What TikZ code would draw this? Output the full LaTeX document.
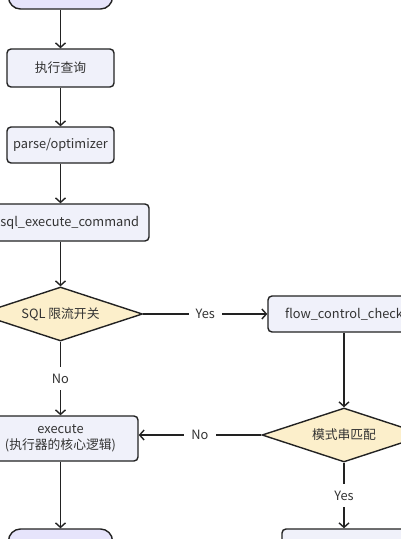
\documentclass[tikz,border=0pt]{standalone}
\usepackage{fontspec}
\setmainfont{Noto Sans CJK SC}
\usetikzlibrary{arrows.meta,shapes.geometric}
\definecolor{boxfill}{HTML}{F0F1FA}
\definecolor{termfill}{HTML}{E6E4FB}
\definecolor{decfill}{HTML}{FCEFCB}
\definecolor{linec}{HTML}{222222}
\definecolor{textc}{HTML}{333333}
\tikzset{
  x=1pt,y=-1pt,
  every node/.style={font=\fontsize{12.8}{16}\selectfont, text=textc},
  procbox/.style={draw=linec, line width=1.4pt, fill=boxfill, rounded corners=4pt, inner sep=0pt, align=center},
  termbox/.style={draw=linec, line width=1.4pt, fill=termfill, rounded corners=12pt, inner sep=0pt},
  decbox/.style={draw=linec, line width=1.4pt, fill=decfill, diamond, aspect=3.04, inner sep=0pt, minimum width=164pt, minimum height=54pt},
  conn/.style={draw=linec, line width=1.4pt, -{Straight Barb[length=4.5pt,width=10pt,line width=1.4pt]}},
  lab/.style={fill=white, inner xsep=7pt, inner ysep=7pt}
}
\begin{document}
\begin{tikzpicture}
\useasboundingbox (0,0) rectangle (400,539);
% top terminator
\node[termbox, minimum width=104pt, minimum height=40pt] (top) at (60.5,-11) {};
\node[procbox, minimum width=107pt, minimum height=38pt] (q1) at (60.5,68) {执行查询};
\node[procbox, minimum width=107pt, minimum height=36pt] (q2) at (60.5,145) {parse/optimizer};
\node[procbox, minimum width=177pt, minimum height=37pt] (q3) at (60.5,222.5) {mysql\_execute\_command};
\node[decbox] (d1) at (60.5,314) {SQL 限流开关};
\node[procbox, minimum width=152pt, minimum height=36pt] (fc) at (344,314) {flow\_control\_check};
\node[decbox] (d2) at (344,435) {模式串匹配};
\node[procbox, minimum width=155pt, minimum height=45pt] (ex) at (60.5,438.5) {execute\\(执行器的核心逻辑)};
\node[termbox, minimum width=104pt, minimum height=40pt] (endl) at (60.5,549) {};
\node[procbox, minimum width=124pt, minimum height=40pt] (br) at (344,549) {};

\draw[conn] (top) -- (q1);
\draw[conn] (q1) -- (q2);
\draw[conn] (q2) -- (q3);
\draw[conn] (q3) -- (d1);
\draw[conn] (d1) -- node[lab] {Yes} (fc);
\draw[conn] (d1) -- node[lab] {No} (ex);
\draw[conn] (fc) -- (d2);
\draw[conn] (d2.west) -- node[lab] {No} (ex.east |- d2.west);
\draw[conn] (d2) -- node[lab] {Yes} (br);
\draw[conn] (ex) -- (endl);
\end{tikzpicture}
\end{document}
